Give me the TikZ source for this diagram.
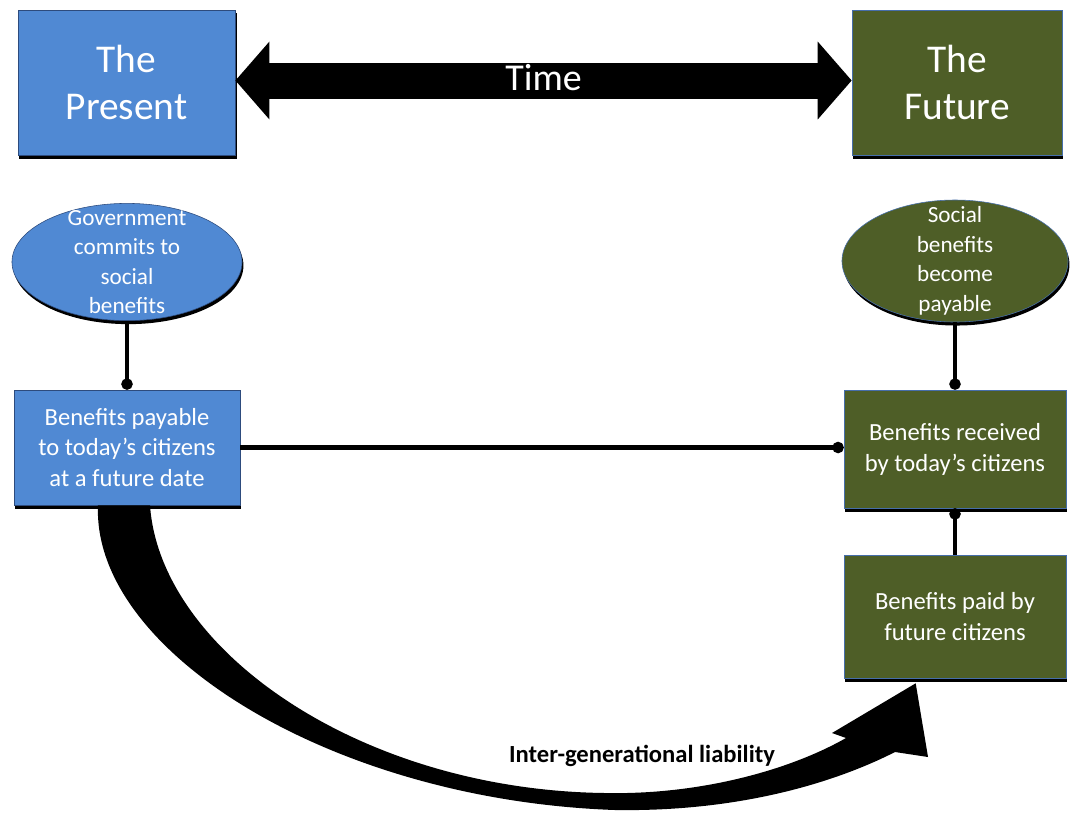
\documentclass[tikz,border=0pt]{standalone}
\usepackage{fontspec}
\setmainfont{Carlito}
\usetikzlibrary{arrows.meta,shapes.geometric,shadows,calc}
\definecolor{nowblue}{RGB}{80,137,211}
\definecolor{nowedge}{RGB}{45,75,125}
\definecolor{laterolive}{RGB}{78,94,39}
\definecolor{lateredge}{RGB}{70,110,170}

\begin{document}
\begin{tikzpicture}[x=0.025cm, y=-0.025cm, >=Stealth,
	boxshadow/.style={drop shadow={shadow xshift=1pt,shadow yshift=-2.5pt,fill=black,opacity=1}},
	nowbox/.style={rectangle, fill=nowblue, draw=nowedge, thin, boxshadow, text=white, align=center, inner sep=0pt},
	laterbox/.style={rectangle, fill=laterolive, draw=lateredge, thin, boxshadow, text=white, align=center, inner sep=0pt},
	nowoval/.style={ellipse, fill=nowblue, draw=nowedge, thin, boxshadow, inner sep=0pt},
	lateroval/.style={ellipse, fill=laterolive, draw=lateredge, thin, boxshadow, inner sep=0pt},
	bigtitle/.style={font=\fontsize{28}{33}\selectfont},
	txt/.style={font=\fontsize{17.5}{22}\selectfont},
	ovaltxt/.style={text=white, align=center, font=\fontsize{16.5}{21}\selectfont},
	link/.style={line width=3.5pt, -{Circle[length=8pt]}}
	]
	\fill[white] (0,0) rectangle (1071,812);
	\useasboundingbox (0,0) rectangle (1071,812);

	% top row
	\node[nowbox, bigtitle, minimum width=5.43cm, minimum height=3.63cm] (present) at (126.5,82.5) {The\\Present};
	\node[laterbox, bigtitle, minimum width=5.25cm, minimum height=3.63cm] (future) at (957,82.5) {The\\Future};
	\draw[line width=0.9cm, {Triangle[width=1.9cm,length=0.85cm]}-{Triangle[width=1.9cm,length=0.85cm]}]
		($(present.east)+(0,-2)$) -- ($(future.west)+(0,-2)$)
		node[midway, text=white, font=\fontsize{27}{30}\selectfont, yshift=2pt] (time) {Time};

	% ovals
	\node[nowoval, minimum width=5.75cm, minimum height=2.93cm,
		label={[ovaltxt]center:Government\\commits to\\social\\benefits}] (commit) at (127,262) {};
	\node[lateroval, minimum width=5.65cm, minimum height=3.05cm,
		label={[ovaltxt]center:Social\\benefits\\become\\payable}] (social) at (955,261) {};

	% boxes
	\node[nowbox, txt, minimum width=5.65cm, minimum height=2.875cm] (payable) at (127,447.5) {Benefits payable\\to today’s citizens\\at a future date};
	\node[laterbox, txt, minimum width=5.55cm, minimum height=2.95cm] (received) at (955,449) {Benefits received\\by today’s citizens};
	\node[laterbox, txt, minimum width=5.55cm, minimum height=3.075cm] (paid) at (955,616.5) {Benefits paid by\\future citizens};

	% connectors
	\draw[link] (commit) -- (payable);
	\draw[link] (social) -- (received);
	\draw[link] (paid) -- (received);
	\draw[link] (payable.east) -- (payable.east -| received.west);

	% inter-generational arrow
	\fill ($(payable.south)+(-29,0)$)
		.. controls (92,650) and (330,800) .. (615,810)
		.. controls (745,812) and (840,780) .. (895,752)
		-- (928,757) -- ($(paid.south west)+(72,5)$) -- (832,733) -- (846,738)
		.. controls (790,770) and (700,795) .. (605,793)
		.. controls (360,790) and (160,650) .. ($(payable.south)+(23,0)$)
		-- cycle;
	\node[font=\bfseries\fontsize{17.5}{20}\selectfont] (liability) at (642,756) {Inter-generational liability};
\end{tikzpicture}
\end{document}
